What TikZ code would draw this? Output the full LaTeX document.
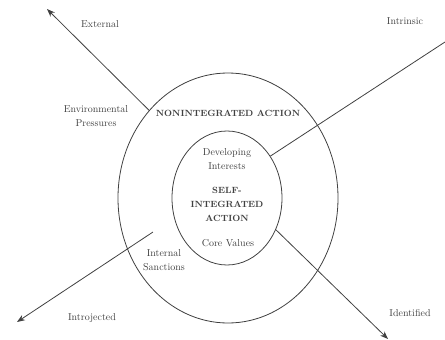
\documentclass[tikz,border=0pt]{standalone}
\usepackage{tikz}
\usetikzlibrary{calc}
\usetikzlibrary{positioning}
\usetikzlibrary{shapes.geometric}
\usetikzlibrary{arrows.meta}
\definecolor{inkgray}{gray}{0.25}
\tikzstyle{ringnode} = [draw=inkgray, ellipse, inner sep=0, line width=0.8pt]
\tikzstyle{labelnode} = [text=inkgray, align=center, font=\fontsize{10}{14}\selectfont, inner sep=0]
\tikzstyle{headnode} = [labelnode, font=\fontsize{9}{14}\selectfont\bfseries]
\tikzstyle{ray} = [draw=inkgray, line width=0.8pt]
\tikzstyle{raytip} = [-{Stealth[length=8pt,width=6pt]}]

\begin{document}
\begin{tikzpicture}[x=1pt, y=-1pt]
\useasboundingbox (0,0) rectangle (445,340);
\node[ringnode, minimum width=220, minimum height=250] (outer) at (228,198) {};
\node[ringnode, minimum width=110, minimum height=134] (inner) at ($(outer)+(-1,0)$) {};

\node[headnode] (nonint) at ($(outer)+(0,-85)$) {NONINTEGRATED ACTION};
\node[labelnode] (devel) at ($(inner)+(0,-39)$) {Developing\\Interests};
\node[headnode] (selfint) at ($(inner)+(0,6)$) {SELF-\\INTEGRATED\\ACTION};
\node[labelnode] (core) at ($(inner)+(1,45)$) {Core Values};
\node[labelnode] (envpress) at (96,116) {Environmental\\Pressures};
\node[labelnode] (intsanc) at (164,260) {Internal\\Sanctions};

\node[labelnode] (external) at (100,24) {External};
\node[labelnode] (intrinsic) at (405,21) {Intrinsic};
\node[labelnode] (introj) at (92,318) {Introjected};
\node[labelnode] (ident) at (410,313) {Identified};

\coordinate (exttip) at (47,9);
\coordinate (intrend) at (445,42);
\coordinate (introstart) at (153,232);
\coordinate (introtip) at (17,322);
\coordinate (identtip) at (388,339);

\draw[ray, raytip] (outer.132) -- (exttip);
\draw[ray] (inner.44) -- (intrend);
\draw[ray, raytip] (introstart) -- (introtip);
\draw[ray, raytip] (inner.-33) -- (identtip);
\end{tikzpicture}
\end{document}
